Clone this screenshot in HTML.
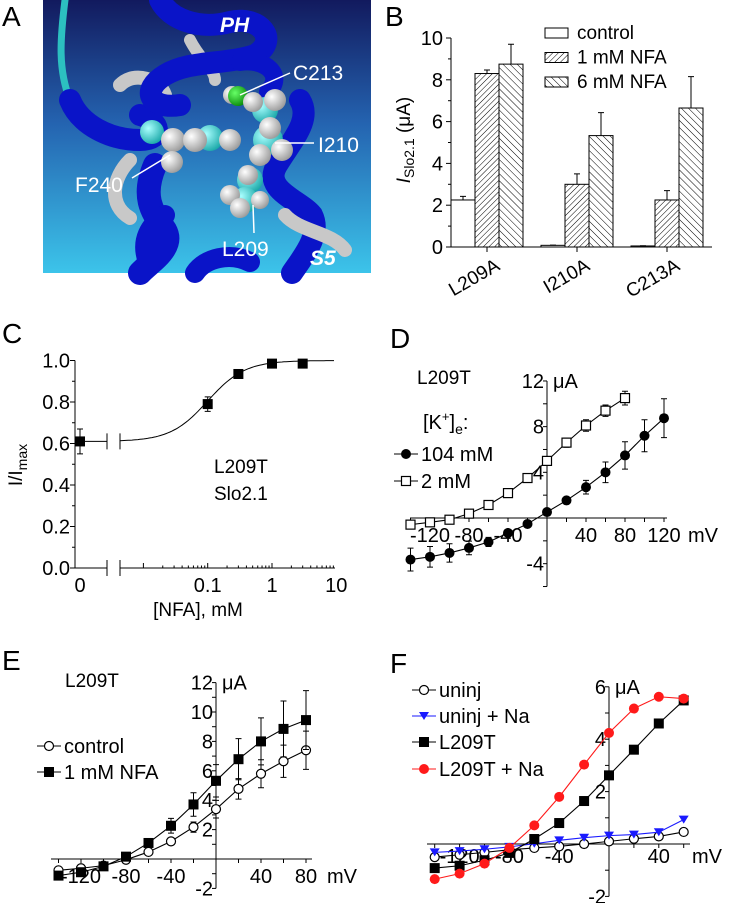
<!DOCTYPE html>
<html><head><meta charset="utf-8"><style>
html,body{margin:0;padding:0;background:#fff}
svg{display:block;font-family:"Liberation Sans",Arial,sans-serif}
</style></head><body>
<svg id="fig" width="754" height="903" viewBox="0 0 754 903" xmlns="http://www.w3.org/2000/svg">
<defs>
<linearGradient id="bg" x1="0" y1="0" x2="0" y2="1"><stop offset="0" stop-color="#121a5e"/><stop offset="0.45" stop-color="#2463b0"/><stop offset="1" stop-color="#3cc4ea"/></linearGradient>
<radialGradient id="ball" cx="0.35" cy="0.35" r="0.7"><stop offset="0" stop-color="#ffffff"/><stop offset="1" stop-color="#9a9a9a"/></radialGradient>
<radialGradient id="cball" cx="0.35" cy="0.35" r="0.7"><stop offset="0" stop-color="#aaffff"/><stop offset="1" stop-color="#1aa8a8"/></radialGradient>
<radialGradient id="gball" cx="0.35" cy="0.35" r="0.7"><stop offset="0" stop-color="#6f6"/><stop offset="1" stop-color="#0a8a0a"/></radialGradient>
<pattern id="h1" width="4" height="4" patternUnits="userSpaceOnUse" patternTransform="rotate(45)"><rect width="4" height="4" fill="#fff"/><line x1="0" y1="0" x2="0" y2="4" stroke="#000" stroke-width="1"/></pattern>
<pattern id="h6" width="5" height="5" patternUnits="userSpaceOnUse" patternTransform="rotate(-45)"><rect width="5" height="5" fill="#fff"/><line x1="0" y1="0" x2="0" y2="5" stroke="#000" stroke-width="1"/></pattern>
</defs>

<!-- Panel A -->
<g>
<text x="2" y="26" font-size="28">A</text>
<rect x="43" y="0" width="328" height="273" fill="url(#bg)"/>
<g fill="none" stroke-linecap="round">
<path d="M65 0 C60 40 58 70 70 100" stroke="#2cc0c0" stroke-width="7"/>
<path d="M120 85 C135 70 160 80 165 95" stroke="#c8c8c8" stroke-width="14"/>
<path d="M190 40 C200 60 215 70 215 80" stroke="#c8c8c8" stroke-width="12"/>
<path d="M70 100 C80 125 110 140 140 140 C165 140 160 120 140 115" stroke="#0a14c8" stroke-width="22"/>
<path d="M160 0 C170 20 200 30 230 22 C260 15 280 40 255 55 C225 65 190 60 165 75 C140 90 150 110 180 105" stroke="#0a14c8" stroke-width="22"/>
<path d="M240 62 C265 58 285 75 268 92" stroke="#0a14c8" stroke-width="18"/>
<path d="M130 160 C112 178 108 205 130 218" stroke="#c8c8c8" stroke-width="14"/>
<path d="M155 165 C140 200 155 215 165 230 C175 248 150 262 140 273" stroke="#0a14c8" stroke-width="24"/>
<path d="M165 215 C150 225 140 240 148 262" stroke="#0a14c8" stroke-width="20"/>
<path d="M300 100 C312 120 292 140 277 165 C262 190 300 200 312 215 C322 235 302 258 292 273" stroke="#0a14c8" stroke-width="22"/>
<path d="M285 215 C300 232 332 232 345 250" stroke="#c8c8c8" stroke-width="14"/>
<path d="M195 273 C205 258 230 252 250 262" stroke="#0a14c8" stroke-width="20"/>
</g>
<g>
<circle cx="152" cy="132" r="12" fill="url(#cball)"/><circle cx="173" cy="140" r="12" fill="url(#ball)"/>
<circle cx="210" cy="138" r="13" fill="url(#cball)"/><circle cx="195" cy="140" r="12" fill="url(#ball)"/>
<circle cx="230" cy="140" r="11" fill="url(#ball)"/><circle cx="172" cy="162" r="11" fill="url(#ball)"/>
<circle cx="265" cy="110" r="13" fill="url(#cball)"/><circle cx="275" cy="100" r="11" fill="url(#ball)"/>
<circle cx="268" cy="140" r="15" fill="url(#cball)"/><circle cx="270" cy="128" r="11" fill="url(#ball)"/>
<circle cx="282" cy="150" r="11" fill="url(#ball)"/><circle cx="260" cy="155" r="11" fill="url(#ball)"/>
<circle cx="250" cy="180" r="13" fill="url(#cball)"/><circle cx="248" cy="175" r="10" fill="url(#ball)"/>
<circle cx="245" cy="200" r="13" fill="url(#cball)"/><circle cx="230" cy="195" r="10" fill="url(#ball)"/>
<circle cx="240" cy="208" r="10" fill="url(#ball)"/><circle cx="260" cy="200" r="9" fill="url(#ball)"/>
<circle cx="232" cy="95" r="9" fill="url(#ball)"/><circle cx="238" cy="96" r="10" fill="url(#gball)"/>
<circle cx="253" cy="102" r="10" fill="url(#ball)"/>
</g>
<g fill="#fff" font-size="21">
<text x="220" y="32" font-weight="bold" font-style="italic">PH</text>
<text x="293" y="80">C213</text>
<text x="318" y="152">I210</text>
<text x="75" y="192">F240</text>
<text x="222" y="256">L209</text>
<text x="310" y="265" font-weight="bold" font-style="italic">S5</text>
<g stroke="#fff" stroke-width="1.5"><line x1="240" y1="95" x2="290" y2="73"/><line x1="275" y1="143" x2="314" y2="143"/><line x1="170" y1="155" x2="132" y2="178"/><line x1="253" y1="205" x2="254" y2="233"/></g>
</g>
</g>
<g id="pb"></g>
<g id="pc"></g>
<g id="pd"></g>
<g id="pe"></g>
<g id="pf"></g>
</svg>
<script>
// ---- Panel B data
const bCategories = ["L209A","I210A","C213A"];
const bControl = [2.25, 0.08, 0.05];
const bControlErr = [0.17, 0.01, 0.01];
const bNfa1 = [8.3, 3.0, 2.25];
const bNfa1Err = [0.17, 0.5, 0.45];
const bNfa6 = [8.75, 5.33, 6.65];
const bNfa6Err = [0.95, 1.1, 1.5];
const bTicks = [0,2,4,6,8,10];
// ---- Panel C data
const cConc = [0, 0.1, 0.3, 1, 3];
const cVal = [0.61, 0.79, 0.935, 0.985, 0.985];
const cErr = [0.06, 0.035, 0.01, 0.01, 0.01];
const cTicks = [0,0.2,0.4,0.6,0.8,1.0];
const cFit = {bottom:0.61, top:1.0, ec50:0.1, hill:1.5};
// ---- Panel D data
const dV104 = [-140,-120,-100,-80,-60,-40,-20,0,20,40,60,80,100,120];
const dI104 = [-3.64,-3.4,-3.06,-2.62,-2.1,-1.31,-0.52,0.52,1.54,2.7,4.0,5.48,7.2,8.74];
const dE104 = [1.0,0.9,0.8,0.6,0.4,0.2,0.15,0.1,0.3,0.6,0.9,1.2,1.4,1.7];
const dV2 = [-140,-120,-100,-80,-60,-40,-20,0,20,40,60,80];
const dI2 = [-0.58,-0.38,-0.15,0.38,1.14,2.18,3.5,5.0,6.6,8.1,9.4,10.5];
const dE2 = [0.1,0.1,0.1,0.1,0.15,0.2,0.25,0.3,0.4,0.5,0.5,0.6];
const dYTicks = [-4,4,8,12];
const dXTicks = [-120,-80,-40,40,80,120];
// ---- Panel E data
const eV = [-140,-120,-100,-80,-60,-40,-20,0,20,40,60,80];
const eCtrl = [-0.77,-0.63,-0.45,-0.05,0.48,1.2,2.17,3.39,4.77,5.8,6.65,7.4];
const eCtrlErr = [0.1,0.1,0.1,0.1,0.2,0.2,0.35,0.6,0.7,0.95,1.1,1.3];
const eNfa = [-1.13,-0.9,-0.5,0.16,1.09,2.26,3.71,5.32,6.79,8.0,8.85,9.45];
const eNfaErr = [0.1,0.1,0.1,0.1,0.2,0.5,0.8,1.1,1.4,1.6,1.9,2.0];
const eYTicks = [-2,2,4,6,8,10,12];
const eXTicks = [-120,-80,-40,40,80];
// ---- Panel F data
const fV = [-140,-120,-100,-80,-60,-40,-20,0,20,40,60];
const fUninj = [-0.5,-0.41,-0.32,-0.22,-0.15,-0.09,0,0.1,0.2,0.29,0.46];
const fUninjNa = [-0.32,-0.27,-0.2,-0.11,0.01,0.14,0.24,0.32,0.36,0.45,0.93];
const fL209T = [-0.92,-0.83,-0.62,-0.34,0.19,0.8,1.64,2.62,3.6,4.6,5.48];
const fL209TNa = [-1.34,-1.13,-0.75,-0.15,0.71,1.8,3.03,4.24,5.17,5.62,5.55];
const fYTicks = [-2,2,4,6];
const fXTicks = [-120,-80,-40,40];

const NS="http://www.w3.org/2000/svg";
function mk(parent, tag, attrs, text){
  const e=document.createElementNS(NS,tag);
  for(const k in attrs) e.setAttribute(k,attrs[k]);
  if(text!==undefined) e.textContent=text;
  parent.appendChild(e); return e;
}

// ===== Panel B =====
(function(){
  const g=document.getElementById('pb');
  const x0=451, y0=247, sy=20.9;
  const Y=v=>y0-v*sy;
  const gx=i=>487+i*90;
  let t=mk(g,'text',{x:385,y:26,'font-size':28},'B');
   
  const series=[[bControl,bControlErr,'#fff'],[bNfa1,bNfa1Err,'url(#h1)'],[bNfa6,bNfa6Err,'url(#h6)']];
  bCategories.forEach((c,i)=>{
    series.forEach((s,j)=>{
      const left=gx(i)-36+j*24, v=s[0][i];
      const r=mk(g,'rect',{x:left,y:Y(v),width:24,height:v*sy,fill:s[2],stroke:'#000','stroke-width':1});
       
      const e=mk(g,'path',{d:`M${left+12} ${Y(v)}V${Y(v+s[1][i])}M${left+9} ${Y(v+s[1][i])}h6`,stroke:'#000',fill:'none'});
       
    });
    const tk=mk(g,'line',{x1:gx(i),y1:y0,x2:gx(i),y2:y0+5,stroke:'#000'});
     
    const l=mk(g,'text',{x:gx(i)+14,y:y0+22,'font-size':19,'text-anchor':'end',transform:`rotate(-30 ${gx(i)+14} ${y0+22})`},c);
     
  });
  const ax=mk(g,'path',{d:`M${x0} ${Y(10)}V${y0}H712`,stroke:'#000',fill:'none'});
   
  for(let v=0;v<=10;v++){const tk=mk(g,'line',{x1:x0-(v%2?3:5),y1:Y(v),x2:x0,y2:Y(v),stroke:'#000'});
     }
  bTicks.forEach(v=>{const l=mk(g,'text',{x:x0-8,y:Y(v)+7,'font-size':20,'text-anchor':'end'},String(v));
     });
  const yl=mk(g,'text',{x:410,y:140,'font-size':19,'text-anchor':'middle',transform:'rotate(-90 410 140)'});
   
  yl.innerHTML='<tspan font-style="italic">I</tspan><tspan font-size="14" dy="4">Slo2.1</tspan><tspan dy="-4"> (μA)</tspan>';
  const leg=[['control','#fff'],['1 mM NFA','url(#h1)'],['6 mM NFA','url(#h6)']];
  leg.forEach((L,i)=>{
    const y=28+i*24.5;
    const r=mk(g,'rect',{x:545,y:y,width:23,height:10,fill:L[1],stroke:'#000'});
     
    const tx=mk(g,'text',{x:577,y:y+11,'font-size':19},L[0]);
     
  });
})();

// ===== Panel C =====
(function(){
  const g=document.getElementById('pc');
  const x0=75, y0=568, sy=207.5;
  const Y=v=>y0-v*sy;
  const X=c=>c===0?80:272+64.3*Math.log10(c);
  let t=mk(g,'text',{x:2,y:343,'font-size':28},'C');
   
  const ax=mk(g,'path',{d:`M${x0} ${Y(1)}V${y0}H107M120 ${y0}H335M107 ${y0-8}v16M120 ${y0-8}v16M107 ${Y(cVal[0])-8}v16M120 ${Y(cVal[0])-8}v16`,stroke:'#000',fill:'none'});
   
  for(let v=0;v<=10;v++){const tk=mk(g,'line',{x1:x0-(v%2?3:5),y1:Y(v/10),x2:x0,y2:Y(v/10),stroke:'#000'});
     }
  cTicks.forEach(v=>{const l=mk(g,'text',{x:x0-5,y:Y(v)+7,'font-size':20,'text-anchor':'end'},v.toFixed(1));
     });
  for(let d=-2;d<=0;d++)for(let m=1;m<=9;m++){const c=Math.pow(10,d)*m, x=X(c);
    const tk=mk(g,'line',{x1:x,y1:y0,x2:x,y2:y0-(m===1?5:2.5),stroke:'#000'});
     }
  [['0',0],['0.1',0.1],['1',1],['10',10]].forEach(L=>{const l=mk(g,'text',{x:X(L[1]),y:y0+24,'font-size':20,'text-anchor':'middle'},L[0]);
     });
  let d='';
  for(let x=120;x<=335;x+=2){const c=Math.pow(10,(x-272)/64.3);
    const v=cFit.bottom+(cFit.top-cFit.bottom)/(1+Math.pow(cFit.ec50/c,cFit.hill));
    d+=(d?'L':'M')+x+' '+Y(v).toFixed(1);}
  const fit=mk(g,'path',{d:d,stroke:'#000',fill:'none'});
   
  const cl=mk(g,'line',{x1:X(0),y1:Y(cVal[0]),x2:107,y2:Y(cVal[0]),stroke:'#000'});
   
  cConc.forEach((c,i)=>{const x=X(c),y=Y(cVal[i]),e=cErr[i]*sy;
    const eb=mk(g,'path',{d:`M${x} ${y-e}V${y+e}M${x-3} ${y-e}h6M${x-3} ${y+e}h6`,stroke:'#000',fill:'none'});
     
    const p=mk(g,'rect',{x:x-5,y:y-5,width:10,height:10,fill:'#000'});
     });
  const yl=mk(g,'text',{x:22,y:465,'font-size':19,'text-anchor':'middle',transform:'rotate(-90 22 465)'});
   
  yl.innerHTML='I/I<tspan font-size="14" dy="5">max</tspan>';
  const xl=mk(g,'text',{x:198,y:616,'font-size':19,'text-anchor':'middle'},'[NFA], mM');
   
  const a1=mk(g,'text',{x:214,y:473,'font-size':19},'L209T');
   
  const a2=mk(g,'text',{x:214,y:500,'font-size':19},'Slo2.1');
   
})();

// ===== IV plot helper =====
function ivAxes(g,o){
  const ax=mk(g,'path',{d:`M${o.x0} ${o.Y(o.yTop)}V${o.Y(o.yBot)}M${o.xl} ${o.y0}H${o.xr}`,stroke:'#000',fill:'none'});
   
  o.yMinor.forEach(v=>{const tk=mk(g,'line',{x1:o.x0-4,y1:o.Y(v),x2:o.x0,y2:o.Y(v),stroke:'#000'});
     });
  o.xMinor.forEach(v=>{const tk=mk(g,'line',{x1:o.X(v),y1:o.y0,x2:o.X(v),y2:o.y0+4,stroke:'#000'});
     });
  o.yTicks.forEach(v=>{const l=mk(g,'text',{x:o.x0-3,y:o.Y(v)+7,'font-size':20,'text-anchor':'end'},String(v));
     });
  o.xTicks.forEach(v=>{const l=mk(g,'text',{x:o.X(v),y:o.y0+o.xly,'font-size':20,'text-anchor':'middle'},String(v));
     });
  const u=mk(g,'text',{x:o.x0+6,y:o.Y(o.yTop)+7,'font-size':20},'μA');
   
  const m=mk(g,'text',{x:o.mvx,y:o.y0+o.xly,'font-size':20},'mV');
   
}
function marker(g,type,x,y,color,name){
  let e;
  if(type==='fcircle') e=mk(g,'circle',{cx:x,cy:y,r:5,fill:color});
  else if(type==='ocircle') e=mk(g,'circle',{cx:x,cy:y,r:4.5,fill:'#fff',stroke:'#000','stroke-width':1.2});
  else if(type==='fsquare') e=mk(g,'rect',{x:x-5,y:y-5,width:10,height:10,fill:color});
  else if(type==='osquare') e=mk(g,'rect',{x:x-4.5,y:y-4.5,width:9,height:9,fill:'#fff',stroke:'#000','stroke-width':1.2});
  else if(type==='tri') e=mk(g,'path',{d:`M${x-5} ${y-4}h10l-5 8z`,fill:color});
   
}
function series(g,X,Y,xs,ys,errs,type,color,name){
  let d=''; xs.forEach((v,i)=>{d+=(i?'L':'M')+X(v)+' '+Y(ys[i]);});
  const l=mk(g,'path',{d:d,stroke:color,fill:'none','stroke-width':1.1});
   
  xs.forEach((v,i)=>{
    if(errs){const x=X(v),a=Y(ys[i]+errs[i]),b=Y(ys[i]-errs[i]);
      const e=mk(g,'path',{d:`M${x} ${a}V${b}M${x-3} ${a}h6M${x-3} ${b}h6`,stroke:color,fill:'none'});
       }
    marker(g,type,X(v),Y(ys[i]),color,name+'-point');
  });
}
function legendItem(g,x,y,type,color,label){
  const l=mk(g,'line',{x1:x-12,y1:y,x2:x+12,y2:y,stroke:color});
   
  marker(g,type,x,y,color,'legend-marker');
  const t=mk(g,'text',{x:x+15,y:y+7,'font-size':20},label);
   
}

// ===== Panel D =====
(function(){
  const g=document.getElementById('pd');
  const x0=547,y0=518,sy=11.42,sx=0.975;
  const X=v=>x0+v*sx, Y=v=>y0-v*sy;
  let t=mk(g,'text',{x:390,y:348,'font-size':28},'D');
   
  const minorY=[];for(let v=-6;v<=12;v+=2)minorY.push(v);
  const minorX=[];for(let v=-140;v<=120;v+=20)minorX.push(v);
  ivAxes(g,{x0,y0,X,Y,yTop:12,yBot:-6,xl:410,xr:667,yMinor:minorY,xMinor:minorX,yTicks:dYTicks,xTicks:dXTicks,xly:24,mvx:688});
  series(g,X,Y,dV2,dI2,dE2,'osquare','#000','k2mm');
  series(g,X,Y,dV104,dI104,dE104,'fcircle','#000','k104mm');
  const a=mk(g,'text',{x:417,y:384,'font-size':19},'L209T');
   
  const k=mk(g,'text',{x:423,y:429,'font-size':20});
   
  k.innerHTML='[K<tspan font-size="13" dy="-8">+</tspan><tspan dy="8">]</tspan><tspan font-size="14" dy="5">e</tspan><tspan dy="-5">:</tspan>';
  legendItem(g,406,454,'fcircle','#000','104 mM');
  legendItem(g,406,481,'osquare','#000','2 mM');
})();

// ===== Panel E =====
(function(){
  const g=document.getElementById('pe');
  const x0=216,y0=859,sy=14.7,sx=1.125;
  const X=v=>x0+v*sx, Y=v=>y0-v*sy;
  let t=mk(g,'text',{x:2,y:670,'font-size':28},'E');
   
  const minorY=[];for(let v=-2;v<=12;v+=1)minorY.push(v);
  const minorX=[];for(let v=-140;v<=80;v+=20)minorX.push(v);
  ivAxes(g,{x0,y0,X,Y,yTop:12,yBot:-2,xl:51,xr:312,yMinor:minorY,xMinor:minorX,yTicks:eYTicks,xTicks:eXTicks,xly:24,mvx:327});
  series(g,X,Y,eV,eCtrl,eCtrlErr,'ocircle','#000','control');
  series(g,X,Y,eV,eNfa,eNfaErr,'fsquare','#000','nfa-1mm');
  const a=mk(g,'text',{x:65,y:687,'font-size':19},'L209T');
   
  legendItem(g,49,746,'ocircle','#000','control');
  legendItem(g,49,772,'fsquare','#000','1 mM NFA');
})();

// ===== Panel F =====
(function(){
  const g=document.getElementById('pf');
  const x0=609,y0=844,sy=26.2,sx=1.245;
  const X=v=>x0+v*sx, Y=v=>y0-v*sy;
  let t=mk(g,'text',{x:390,y:673,'font-size':28},'F');
   
  const minorY=[];for(let v=-2;v<=6;v+=1)minorY.push(v);
  const minorX=[];for(let v=-140;v<=60;v+=20)minorX.push(v);
  ivAxes(g,{x0,y0,X,Y,yTop:6,yBot:-2,xl:427,xr:690,yMinor:minorY,xMinor:minorX,yTicks:fYTicks,xTicks:fXTicks,xly:19,mvx:692});
  series(g,X,Y,fV,fUninj,null,'ocircle','#000','uninj');
  series(g,X,Y,fV,fUninjNa,null,'tri','#1a1aff','uninj-na');
  series(g,X,Y,fV,fL209T,null,'fsquare','#000','l209t');
  series(g,X,Y,fV,fL209TNa,null,'fcircle','#ff1a1a','l209t-na');
  legendItem(g,424,690,'ocircle','#000','uninj');
  legendItem(g,424,716,'tri','#1a1aff','uninj + Na');
  legendItem(g,424,742,'fsquare','#000','L209T');
  legendItem(g,424,769,'fcircle','#ff1a1a','L209T + Na');
})();
</script>
</body></html>
